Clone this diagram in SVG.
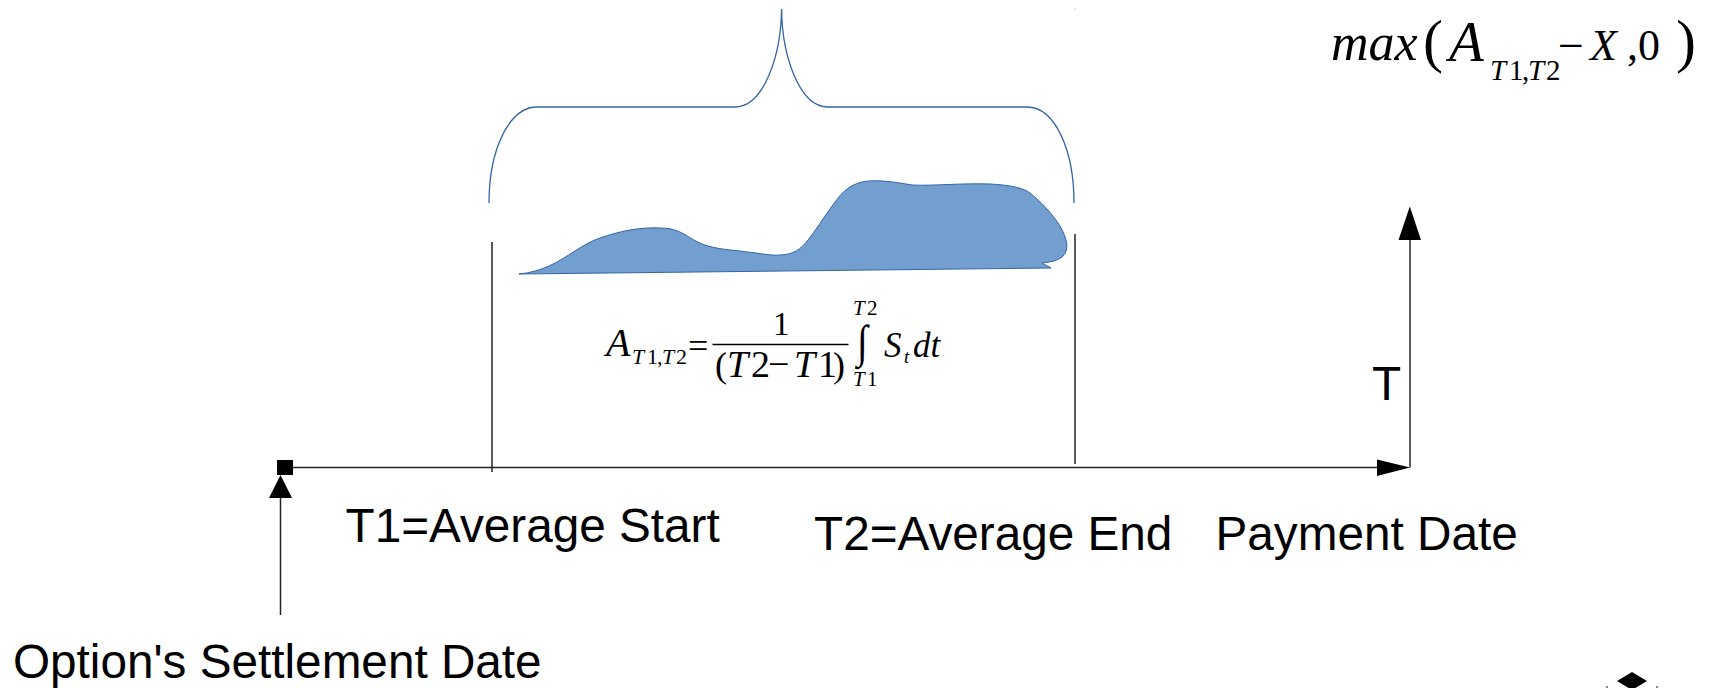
<svg xmlns="http://www.w3.org/2000/svg" width="1709" height="688" viewBox="0 0 1709 688">
<style>
.lbl{font-family:"Liberation Sans",Arial,sans-serif;font-size:47.7px;fill:#000}
.m{font-family:"Liberation Serif","Times New Roman",serif;fill:#000}
.i{font-style:italic}
.ln{stroke:#222;stroke-width:1.5;fill:none}
.ah{fill:#000;stroke:none}
.brace{fill:none;stroke:#3465a4;stroke-width:1.3}
</style>
<rect width="1709" height="688" fill="#fff"/>

<g id="brace">
<path class="brace" d="M489,203 C489,150 509,107 537,107 H735 C764,107 781,55 781.6,9 C782,55 799,107 828,107 H1027 C1055,107 1074,150 1074,203"/>
<rect x="1074.5" y="8.5" width="1" height="1" fill="#999"/>
</g>

<g id="price-path">
<path d="M519,274 C530,273 540,270 549,266 C567,258 582,244 600,238 C620,231 640,227 660,228 C672,228 678,231 684,234 C692,239 700,244 708,246 C722,250 735,250 747,252 C760,253 770,256 781,255 C794,254 800,250 808,240 C816,230 822,220 830,209 C840,195 846,186 862,182 C875,179 895,182 912,185 C935,186 960,183 990,184 C1010,185 1024,188 1030,193 C1040,201 1052,213 1060,226 C1068,240 1069,250 1063,256 C1058,261 1050,262 1042,263 L1051,268 Z" fill="#729fcf" stroke="#3465a4" stroke-width="1"/>
</g>

<g id="connectors">
<line class="ln" x1="292" y1="467.5" x2="1378" y2="467.5"/>
<polygon class="ah" points="1377,459.5 1410,467.5 1377,476"/>
<line class="ln" x1="1410" y1="467.5" x2="1410" y2="239"/>
<polygon class="ah" points="1398.5,240 1409.8,206.5 1421,240"/>
<line class="ln" x1="280.5" y1="615" x2="280.5" y2="497"/>
<polygon class="ah" points="269,498 280.5,475 292,498"/>
<line class="ln" x1="492" y1="242" x2="492" y2="472"/>
<line class="ln" x1="1075" y1="234" x2="1075" y2="464"/>
</g>

<g id="settlement-marker">
<rect x="277" y="460" width="16" height="15" fill="#000"/>
</g>

<g id="label-t1"><text class="lbl" x="345.5" y="542">T1=Average Start</text></g>
<g id="label-t2"><text class="lbl" x="814" y="550">T2=Average End</text></g>
<g id="label-payment"><text class="lbl" x="1215.5" y="550">Payment Date</text></g>
<g id="label-settlement"><text class="lbl" x="13" y="678">Option's Settlement Date</text></g>
<g id="label-T"><text class="lbl" x="1372" y="400">T</text></g>

<g id="formula-average">
<text class="m i" x="606" y="356" font-size="40">A</text>
<text class="m" y="364" font-size="22"><tspan class="i" x="632">T</tspan><tspan x="647">1</tspan><tspan x="657">,</tspan><tspan class="i" x="662">T</tspan><tspan x="676">2</tspan></text>
<text class="m" x="688" y="358" font-size="36">=</text>
<line x1="712.5" y1="344.5" x2="848.5" y2="344.5" stroke="#000" stroke-width="1.7"/>
<text class="m" x="773" y="335" font-size="33">1</text>
<text class="m" y="377" font-size="38"><tspan x="715" font-size="36">(</tspan><tspan class="i" x="727">T</tspan><tspan x="751">2</tspan><tspan x="768">−</tspan><tspan class="i" x="794">T</tspan><tspan x="818">1</tspan><tspan x="833" font-size="36">)</tspan></text>
<text class="m" y="315" font-size="21"><tspan class="i" x="853">T</tspan><tspan x="867">2</tspan></text>
<text class="m" transform="translate(857,357) scale(0.85,1)" font-size="46">∫</text>
<text class="m" y="386" font-size="21"><tspan class="i" x="853">T</tspan><tspan x="867">1</tspan></text>
<text class="m i" x="884" y="357" font-size="35">S</text>
<text class="m i" x="904" y="363" font-size="19">t</text>
<text class="m i" x="913" y="357" font-size="35">dt</text>
</g>

<g id="formula-payoff">
<text class="m i" x="1331" y="60" font-size="52">max</text>
<text class="m" x="1423" y="61" font-size="60">(</text>
<text class="m i" x="1449" y="61" font-size="57">A</text>
<text class="m" y="80" font-size="29"><tspan class="i" x="1490">T</tspan><tspan x="1509">1</tspan><tspan x="1522">,</tspan><tspan class="i" x="1528">T</tspan><tspan x="1546">2</tspan></text>
<text class="m" x="1558" y="61" font-size="46">−</text>
<text class="m i" x="1590" y="60" font-size="44">X</text>
<text class="m" x="1627" y="60" font-size="44">,0</text>
<text class="m" x="1676" y="61" font-size="60">)</text>
</g>

<g id="corner-mark">
<polygon points="1632,672 1647,681 1632,690 1617,681" fill="#000"/>
<rect x="1606" y="686" width="2" height="2" fill="#888"/>
<rect x="1656" y="686" width="2" height="2" fill="#888"/>
</g>
</svg>
